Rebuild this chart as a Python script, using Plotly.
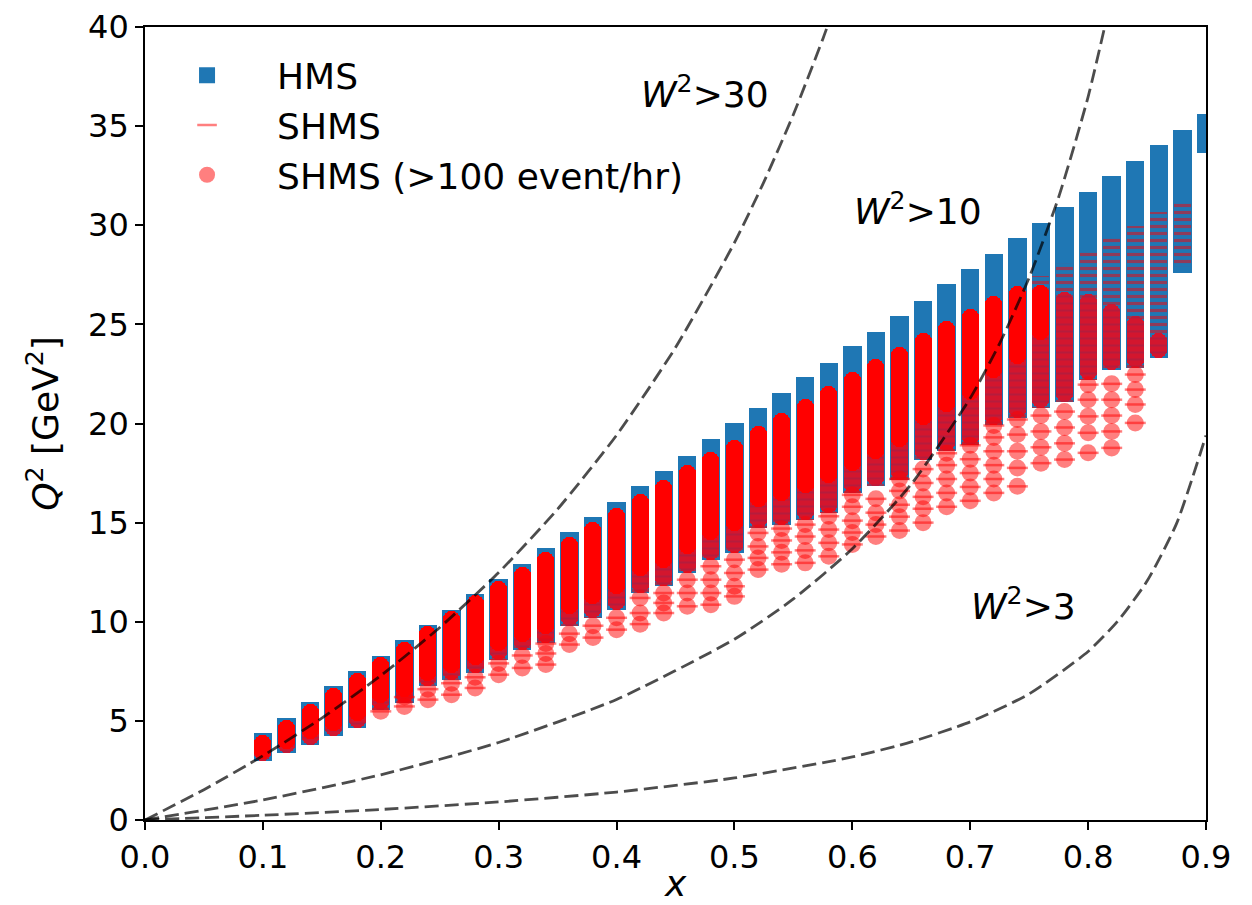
import plotly.graph_objects as go

# ---------------------------------------------------------------- data
# x bins of the kinematic scan
x_bins = [0.10, 0.12, 0.14, 0.16, 0.18, 0.20, 0.22, 0.24, 0.26, 0.28,
          0.30, 0.32, 0.34, 0.36, 0.38, 0.40, 0.42, 0.44, 0.46, 0.48,
          0.50, 0.52, 0.54, 0.56, 0.58, 0.60, 0.62, 0.64, 0.66, 0.68,
          0.70, 0.72, 0.74, 0.76, 0.78, 0.80, 0.82, 0.84, 0.86, 0.88,
          0.90]

# HMS coverage: lowest / highest Q^2 setting in each x bin [GeV^2]
hms_lo = [3.41, 3.83, 4.25, 4.67, 5.11, 6.01, 6.35, 7.19, 7.53, 7.87,
          8.54, 9.04, 9.38, 10.22, 10.64, 11.06, 11.90, 12.24, 12.91, 13.58,
          13.92, 15.18, 15.35, 15.60, 15.95, 16.95, 17.28, 17.62, 18.63, 19.05,
          19.39, 20.39, 20.73, 21.24, 21.55, 22.65, 23.15, 23.25, 23.76, 28.05,
          34.10]
hms_hi = [3.94, 4.70, 5.48, 6.29, 7.05, 7.84, 8.61, 9.40, 10.16, 10.97,
          11.71, 12.48, 13.28, 14.06, 14.82, 15.58, 16.38, 17.14, 17.93, 18.77,
          19.55, 20.34, 21.09, 21.88, 22.61, 23.45, 24.15, 24.99, 25.72, 26.56,
          27.32, 28.12, 28.91, 29.67, 30.48, 31.22, 32.02, 32.78, 33.57, 34.34,
          35.14]

# SHMS coverage (all settings)
shms_lo = [3.38, 3.80, 4.22, 4.64, 5.08, 5.48, 5.73, 6.07, 6.32, 6.66,
           7.33, 7.67, 7.84, 8.85, 9.20, 9.60, 9.88, 10.44, 10.78, 10.86,
           11.28, 12.63, 12.90, 12.97, 13.30, 13.90, 14.30, 14.60, 15.00, 15.80,
           16.10, 16.50, 16.83, 18.00, 18.18, 18.52, 18.77, 20.03, 23.64, 28.00,
           None]
shms_hi = [3.87, 4.63, 5.41, 6.22, 6.98, 7.77, 8.54, 9.35, 10.11, 10.90,
           11.62, 12.34, 13.09, 13.84, 14.58, 15.29, 16.04, 16.73, 17.46, 18.13,
           18.74, 19.45, 20.12, 20.82, 21.46, 22.17, 22.80, 23.42, 24.15, 24.74,
           25.33, 26.00, 26.50, 27.35, 28.00, 28.65, 29.27, 29.87, 30.55, 31.05,
           None]

# SHMS settings with more than 100 events/hr: top of each stack
rate_hi = [3.87, 4.63, 5.41, 6.22, 6.98, 7.77, 8.54, 9.35, 10.11, 10.90,
           11.62, 12.34, 13.09, 13.84, 14.58, 15.29, 16.04, 16.73, 17.46, 18.13,
           18.74, 19.45, 20.12, 20.82, 21.46, 22.17, 22.80, 23.42, 24.15, 24.74,
           25.33, 26.00, 26.50, 26.58, 26.18, 26.08, 25.58, 24.98, 24.15, None,
           None]
# lower end of the densely overlapping (saturated) part of each stack
bright_lo = [3.10, 3.60, 4.10, 4.50, 5.00, 5.90, 6.20, 7.00, 7.40, 7.80,
             8.50, 9.00, 9.40, 10.40, 10.90, 11.40, 12.30, 12.70, 13.40, 14.10,
             14.60, 15.80, 16.10, 16.50, 17.00, 17.60, 18.20, 18.80, 19.90, 20.60,
             21.20, 22.30, 23.00, 24.20, None, None, None, None, None, None,
             None]
# isolated low-Q^2 settings below the HMS band
rate_tail = [
    [], [], [], [], [],
    [5.48], [5.73, 6.20], [6.07, 6.60], [6.32, 6.90], [6.66, 7.20],
    [7.33, 7.90], [7.67, 8.30], [7.84, 8.40, 8.90], [8.85, 9.40], [9.20, 9.80],
    [9.60, 10.20], [9.88, 10.44, 11.20], [10.44, 10.95, 11.45],
    [10.78, 11.45, 12.12], [10.86, 11.45, 12.12, 12.80],
    [11.28, 11.79, 12.46, 13.13], [12.63, 13.22, 13.80, 14.48],
    [12.90, 13.50, 14.10, 14.70], [12.97, 13.60, 14.30, 14.90],
    [13.30, 13.98, 14.65, 15.32], [13.90, 14.50, 15.10, 15.80, 16.40],
    [14.30, 14.90, 15.50, 16.20], [14.60, 15.30, 15.90, 16.60, 17.20],
    [15.00, 15.70, 16.30, 17.00, 17.70], [15.80, 16.50, 17.20, 17.90, 18.50],
    [16.10, 16.80, 17.50, 18.20, 18.90], [16.50, 17.20, 17.90, 18.60, 19.30, 19.90],
    [16.83, 17.76, 18.60, 19.44, 20.20], [18.00, 18.80, 19.60, 20.40],
    [18.18, 19.00, 19.80, 20.60], [18.52, 19.53, 20.36, 21.20, 21.96],
    [18.77, 19.60, 20.40, 21.20, 22.00], [20.03, 20.96, 21.71, 22.47],
    [], [], [],
]

# W^2 boundaries (Q^2 vs x)
w30_x = [0.0, 0.05, 0.10, 0.15, 0.20, 0.25, 0.30, 0.35, 0.40, 0.45, 0.50, 0.525, 0.55, 0.575, 0.59]
w30_q2 = [0.0, 1.53, 3.24, 5.14, 7.28, 9.71, 12.48, 15.68, 19.41, 23.83, 29.12, 32.19, 35.59, 39.40, 41.90]
w10_x = [0.0, 0.10, 0.20, 0.30, 0.40, 0.50, 0.55, 0.60, 0.65, 0.70, 0.725, 0.75, 0.775, 0.80, 0.82]
w10_q2 = [0.0, 1.01, 2.28, 3.91, 6.08, 9.12, 11.15, 13.68, 16.94, 21.28, 24.04, 27.36, 31.41, 36.48, 41.55]
w3_x = [0.0, 0.10, 0.20, 0.30, 0.40, 0.50, 0.60, 0.65, 0.70, 0.75, 0.80, 0.825, 0.85, 0.875, 0.90]
w3_q2 = [0.0, 0.24, 0.53, 0.91, 1.41, 2.12, 3.18, 3.94, 4.95, 6.36, 8.50, 10.02, 12.05, 14.95, 19.40]

w_labels = ["<i>W</i><sup>2</sup>&gt;30", "<i>W</i><sup>2</sup>&gt;10", "<i>W</i><sup>2</sup>&gt;3"]
w_label_x = [0.419, 0.600, 0.699]
w_label_y = [36.7, 30.8, 10.9]

# ---------------------------------------------------------------- style
BLUE = "#1f77b4"
RED_A = "rgba(255,0,0,0.5)"
CRIMSON = "#d3162e"
PX = 40.0 / 793.0          # one screen pixel in Q^2 units
SQ = 9.0 * PX              # half size of an HMS square marker
RC = 8.5 * PX              # radius of an SHMS circle marker
W_SQ = 0.0156
W_RC = 0.0144
FONT = "DejaVu Sans"

fig = go.Figure()

# HMS squares, stacked into columns
fig.add_trace(go.Bar(
    x=x_bins,
    base=[lo - SQ for lo in hms_lo],
    y=[hi - lo + 2 * SQ for lo, hi in zip(hms_lo, hms_hi)],
    width=W_SQ, marker=dict(color=BLUE, line=dict(width=0)),
    showlegend=False, hoverinfo="skip",
))

# SHMS dash markers seen over the HMS band
sx, sb, sh = [], [], []
for x, lo_h, lo_s, hi_s in zip(x_bins, hms_lo, shms_lo, shms_hi):
    if hi_s is None:
        continue
    b = max(lo_h - SQ, lo_s - 2 * PX)
    sx.append(x)
    sb.append(b)
    sh.append(hi_s + 2 * PX - b)
fig.add_trace(go.Bar(
    x=sx, base=sb, y=sh, width=W_RC,
    marker=dict(color="rgba(0,0,0,0)", line=dict(width=0),
                pattern=dict(shape="-", fgcolor="#ff0000", fgopacity=0.5,
                             bgcolor="rgba(0,0,0,0)", size=7, solidity=0.45,
                             fillmode="replace")),
    showlegend=False, hoverinfo="skip",
))

# >100 event/hr stacks: overlapping region over the HMS band
cx, cb, ch = [], [], []
for x, lo_h, hi_r in zip(x_bins, hms_lo, rate_hi):
    if hi_r is None:
        continue
    b = lo_h - SQ
    cx.append(x)
    cb.append(b)
    ch.append(hi_r + RC - b)
fig.add_trace(go.Bar(
    x=cx, base=cb, y=ch, width=W_RC,
    marker=dict(color=CRIMSON, cornerradius="50%", line=dict(width=0),
                pattern=dict(shape="-", fgcolor="#8a2450", fgopacity=0.4,
                             size=7, solidity=0.3, fillmode="overlay")),
    showlegend=False, hoverinfo="skip",
))

# saturated part of the stacks
bx, bb, bh = [], [], []
for x, lo_b, hi_r in zip(x_bins, bright_lo, rate_hi):
    if lo_b is None or hi_r is None:
        continue
    bx.append(x)
    bb.append(lo_b)
    bh.append(hi_r + RC - lo_b)
fig.add_trace(go.Bar(
    x=bx, base=bb, y=bh, width=W_RC,
    marker=dict(color="#ff0000", cornerradius="50%", line=dict(width=0)),
    showlegend=False, hoverinfo="skip",
))

# isolated settings below the HMS band (circle + dash)
tx, ty = [], []
for x, tail in zip(x_bins, rate_tail):
    for q in tail:
        tx.append(x)
        ty.append(q)
fig.add_trace(go.Scatter(
    x=tx, y=ty, mode="markers",
    marker=dict(symbol="circle", size=17, color=RED_A, line=dict(width=0)),
    showlegend=False, hoverinfo="skip",
))
fig.add_trace(go.Scatter(
    x=tx, y=ty, mode="markers",
    marker=dict(symbol="line-ew", size=15, color=RED_A,
                line=dict(width=2.5, color=RED_A)),
    showlegend=False, hoverinfo="skip",
))

# W^2 boundaries
for wx, wq in [(w30_x, w30_q2), (w10_x, w10_q2), (w3_x, w3_q2)]:
    fig.add_trace(go.Scatter(
        x=wx, y=wq, mode="lines",
        line=dict(color="rgba(0,0,0,0.7)", width=2.8, dash="14px,6px",
                  shape="spline", smoothing=0.6),
        showlegend=False, hoverinfo="skip",
    ))

# legend entries
fig.add_trace(go.Scatter(
    x=[None], y=[None], mode="markers", name="HMS", legendgroup="a",
    marker=dict(symbol="square", size=17, color=BLUE),
))
fig.add_trace(go.Scatter(
    x=[None], y=[None], mode="markers", name="SHMS", legendgroup="b",
    marker=dict(symbol="line-ew", size=14, color=RED_A, line=dict(width=2.5, color=RED_A)),
))
fig.add_trace(go.Scatter(
    x=[None], y=[None], mode="markers", name="SHMS (&gt;100 event/hr)", legendgroup="c",
    marker=dict(symbol="circle", size=17, color=RED_A),
))

for txt, ax_, ay_ in zip(w_labels, w_label_x, w_label_y):
    fig.add_annotation(x=ax_, y=ay_, text=txt, showarrow=False,
                       xanchor="left", yanchor="middle",
                       font=dict(family=FONT, size=36, color="black"))

# x-axis title, placed low near the lower edge of the canvas
fig.add_annotation(x=0.5, y=-0.0795, xref="paper", yref="paper", text="<i>x</i>",
                   showarrow=False, xanchor="center", yanchor="middle",
                   font=dict(family=FONT, size=36, color="black"))

axis_common = dict(
    showgrid=False, zeroline=False, showline=True, mirror=True,
    linecolor="black", linewidth=1.6, ticks="outside", ticklen=8,
    tickwidth=1.6, tickcolor="black",
    tickfont=dict(family=FONT, size=32, color="black"),
)
fig.update_xaxes(range=[0, 0.9], dtick=0.1, tick0=0, tickformat=".1f",
                 automargin=False, **axis_common)
fig.update_yaxes(range=[0, 40], dtick=5, tick0=0,
                 title=dict(text="<i>Q</i><sup>2</sup> [GeV<sup>2</sup>]",
                            font=dict(family=FONT, size=36, color="black"), standoff=18),
                 automargin=False, **axis_common)

fig.update_layout(
    width=1252, height=905,
    margin=dict(l=145, r=46, t=27, b=85),
    paper_bgcolor="white", plot_bgcolor="white",
    barmode="overlay", bargap=0,
    font=dict(family=FONT, size=32, color="black"),
    legend=dict(x=-0.0075, y=0.977, xanchor="left", yanchor="top",
                bgcolor="rgba(0,0,0,0)", borderwidth=0,
                font=dict(family=FONT, size=36, color="black"),
                tracegroupgap=0, itemwidth=130),
)

fig.write_html("out.html")
